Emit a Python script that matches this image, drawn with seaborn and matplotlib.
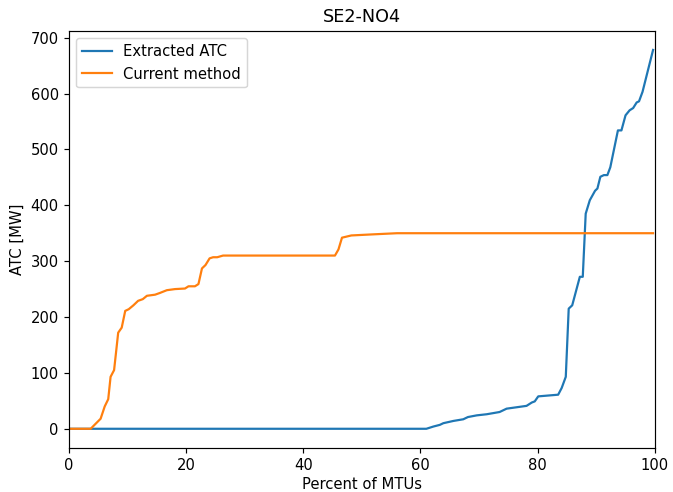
import matplotlib
matplotlib.use("Agg")
import matplotlib.pyplot as plt
import seaborn as sns
import pandas as pd

# Extracted ATC (duration curve)
atc_x = [0, 61.0, 62.2, 63.3, 63.9, 65.6, 67.3, 68.1, 69.6, 71.3, 73.5, 74.7, 78.1, 79.0, 79.5,
         80.1, 83.5, 84.1, 84.8, 85.3, 85.9, 87.2, 87.7, 88.2, 88.9, 89.8, 90.2, 90.7, 91.3,
         91.9, 92.4, 93.7, 94.3, 95.0, 95.7, 96.3, 96.9, 97.3, 97.9, 99.7]
atc_y = [0, 0, 4, 7, 10, 14, 17, 21, 24, 26, 30, 36, 41, 47, 49,
         58, 61, 73, 93, 215, 221, 272, 272, 385, 409, 426, 430, 451, 454,
         454, 468, 534, 534, 561, 570, 574, 584, 586, 603, 678]

# Current method
cur_x = [0, 3.7, 5.4, 6.1, 6.7, 7.1, 7.7, 8.4, 9.0, 9.6, 10.2, 11.0, 11.8, 12.6, 13.3, 14.7,
         15.5, 16.7, 18.1, 19.8, 20.4, 21.5, 22.1, 22.7, 23.3, 24.0, 24.6, 25.3, 26.3, 45.4,
         46.0, 46.6, 48.2, 52.0, 56.0, 99.7]
cur_y = [0, 0, 18, 40, 53, 93, 105, 172, 181, 211, 214, 221, 229, 232, 238, 240,
         243, 248, 250, 251, 255, 255, 259, 287, 293, 305, 307, 307, 310, 310,
         321, 342, 346, 348, 350, 350]

df = pd.concat([
    pd.DataFrame({"x": atc_x, "y": atc_y, "series": "Extracted ATC"}),
    pd.DataFrame({"x": cur_x, "y": cur_y, "series": "Current method"}),
])

DPI = 106
fig, ax = plt.subplots(figsize=(673 / DPI, 492 / DPI), dpi=DPI)
fig.subplots_adjust(left=0.1025, right=0.973, top=0.937, bottom=0.09)
sns.lineplot(data=df, x="x", y="y", hue="series", estimator=None, sort=False,
             palette=["#1f77b4", "#ff7f0e"], linewidth=1.5, ax=ax)
ax.set_xlim(0, 100)
ax.set_title("SE2-NO4")
ax.set_xlabel("Percent of MTUs", labelpad=2.5)
ax.set_ylabel("ATC [MW]")
ax.legend(loc="upper left", title=None)
fig.savefig("out.png", dpi=DPI)
